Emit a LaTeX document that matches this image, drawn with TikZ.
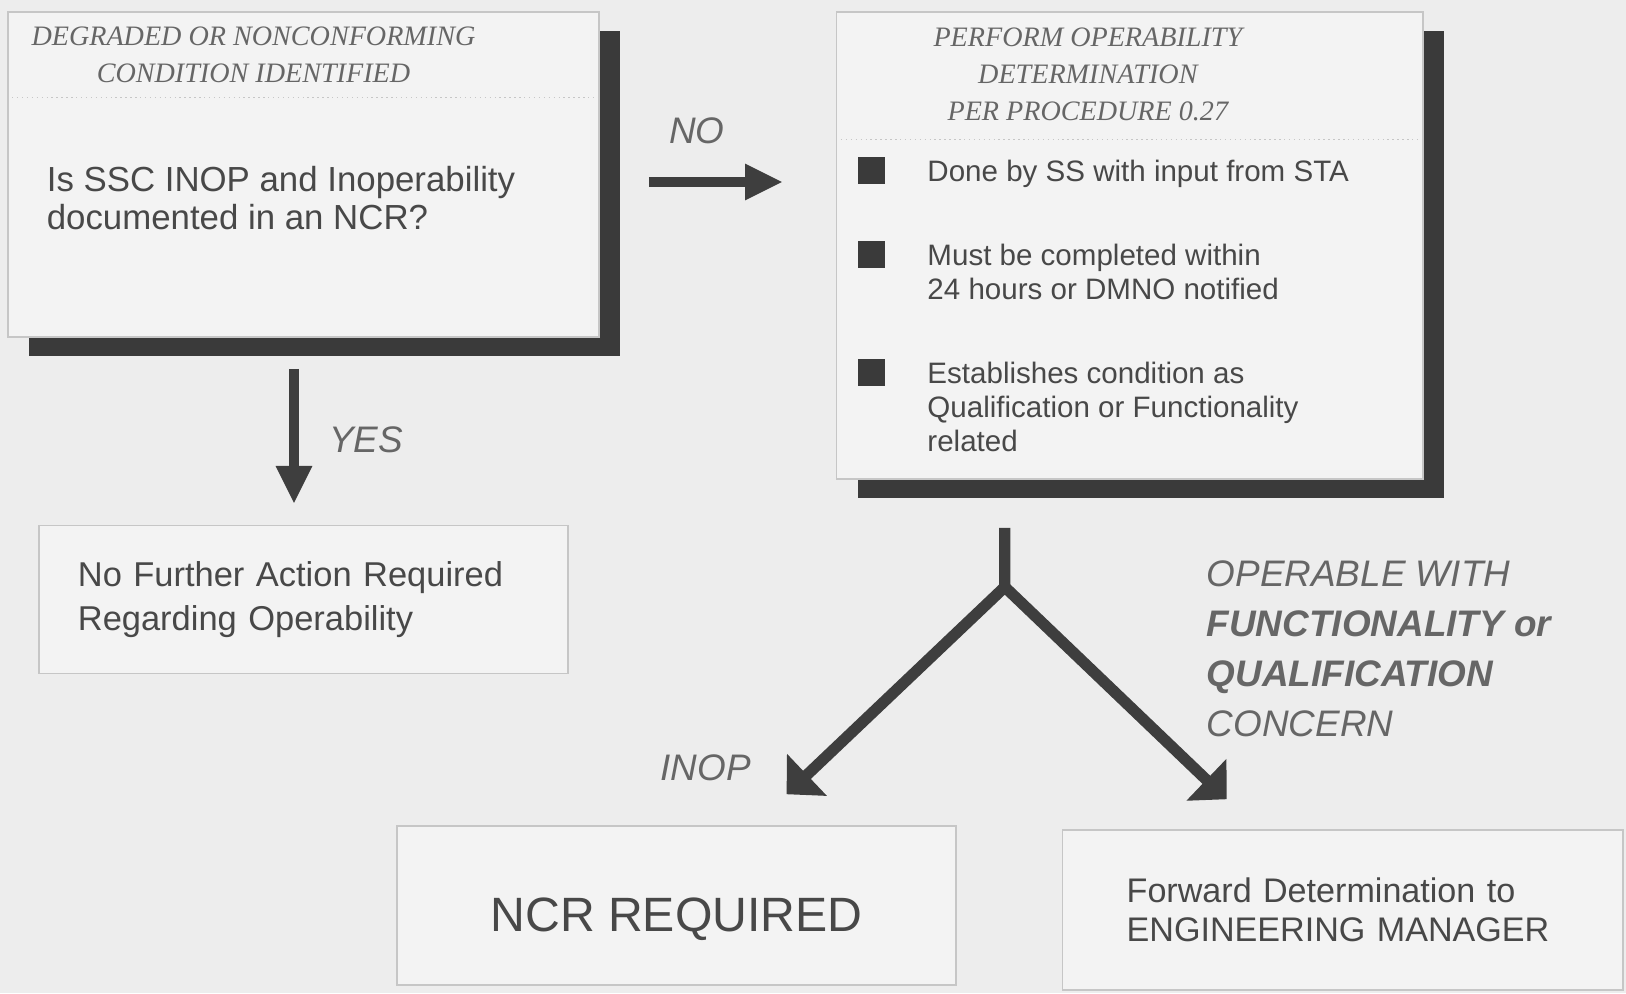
\documentclass[tikz,border=0pt]{standalone}
\usepackage{fontspec}
\setmainfont{Liberation Serif}
\setsansfont{Liberation Sans}
\usepackage{tikz}
\usetikzlibrary{arrows.meta,positioning,shadows}
\definecolor{paper}{HTML}{EDEDED}
\definecolor{boxfill}{HTML}{F3F3F3}
\definecolor{boxline}{HTML}{C6C6C6}
\definecolor{shadowgrey}{HTML}{3A3A3A}
\definecolor{ink}{HTML}{484848}
\definecolor{softink}{HTML}{666666}
\definecolor{arrowgrey}{HTML}{3E3E3E}
\tikzset{
  shadowbox/.style={
    rectangle, draw=boxline, fill=boxfill, thin, inner sep=0pt,
    drop shadow={shadow xshift=0.21cm, shadow yshift=-0.19cm,
                 opacity=1, fill=shadowgrey}
  },
  plainbox/.style={
    rectangle, draw=boxline, fill=boxfill, thin,
    text=ink, align=left
  },
  headtext/.style={font=\rmfamily\itshape\fontsize{8}{10.5}\selectfont,
    text=softink, align=center, inner sep=0pt},
  asktext/.style={font=\sffamily\fontsize{9.9}{10.9}\selectfont,
    text=ink, align=left, inner sep=0pt},
  itemtext/.style={font=\sffamily\fontsize{8.4}{9.7}\selectfont,
    text=ink, align=left, inner sep=0pt},
  bulletsq/.style={rectangle, fill=shadowgrey, minimum size=0.27cm, inner sep=0pt},
  divline/.style={draw=boxline, densely dotted, thin},
  flowarrow/.style={
    -{Triangle[length=10.8pt, width=9.6pt]}, line width=3pt, color=arrowgrey
  },
  forkarrow/.style={
    -{Triangle[length=8pt, width=16pt]}, line width=3.2pt, color=arrowgrey
  },
  flowlabel/.style={font=\sffamily\itshape\fontsize{10.5}{14.2}\selectfont,
    text=softink, inner sep=0pt, align=left},
}
\begin{document}
\begin{tikzpicture}[x=0.01cm, y=-0.01cm]
    \fill[paper] (0,0) rectangle (1626,993);
    % top row
    \node[shadowbox, minimum width=5.91cm, minimum height=3.25cm] (cond) at (303.5,174.5) {};
    \node[shadowbox, minimum width=5.86cm, minimum height=4.67cm,
          right=2.36cm of cond.north east, anchor=north west] (perform) {};
    \node[headtext] (condhead) at ([xshift=-0.5cm, yshift=-0.435cm]cond.north)
        {DEGRADED OR NONCONFORMING\\CONDITION IDENTIFIED};
    \draw[divline] ([yshift=-0.86cm]cond.north west) -- ([yshift=-0.86cm]cond.north east);
    \node[asktext, anchor=west] (ask) at ([xshift=0.39cm, yshift=-1.865cm]cond.north west)
        {Is SSC INOP and Inoperability\\documented in an NCR?};
    \node[headtext] (performhead) at ([xshift=-0.42cm, yshift=-0.635cm]perform.north)
        {PERFORM OPERABILITY\\DETERMINATION\\PER PROCEDURE 0.27};
    \draw[divline] ([yshift=-1.28cm]perform.north west) -- ([yshift=-1.28cm]perform.north east);
    % bullet items
    \node[bulletsq] (b1) at ([xshift=0.35cm, yshift=-1.59cm]perform.north west) {};
    \node[bulletsq, below=0.56cm of b1] (b2) {};
    \node[bulletsq, below=0.89cm of b2] (b3) {};
    \node[itemtext, anchor=north west] (item1) at ([xshift=0.415cm, yshift=-0.03cm]b1.north east)
        {Done by SS with input from STA};
    \node[itemtext, anchor=north west] (item2) at ([xshift=0.415cm, yshift=-0.03cm]b2.north east)
        {Must be completed within\\24 hours or DMNO notified};
    \node[itemtext, anchor=north west] (item3) at ([xshift=0.415cm, yshift=-0.03cm]b3.north east)
        {Establishes condition as\\Qualification or Functionality\\related};
    % lower boxes
    \node[plainbox, below=1.87cm of cond, text width=4.51cm, inner xsep=0.39cm,
          minimum height=1.48cm, font=\sffamily\fontsize{9.8}{12.5}\selectfont] (noact)
        {No Further Action Required\\Regarding Operability};
    \node[plainbox, minimum width=5.59cm, minimum height=1.59cm, align=center,
          text height=14.8pt, text depth=0pt,
          font=\sffamily\fontsize{13.7}{16}\selectfont] (ncr) at (676.5,905.5) {NCR REQUIRED};
    \node[plainbox, right=1.05cm of ncr, yshift=-0.045cm, text width=4.32cm, inner xsep=0.64cm,
          minimum height=1.6cm, font=\sffamily\fontsize{9.7}{11.1}\selectfont] (fwd)
        {Forward Determination to\\ENGINEERING MANAGER};
    % connectors
    \draw[flowarrow, shorten <=0.49cm, shorten >=0.53cm]
        ([yshift=-0.075cm]cond.east) -- ([yshift=-0.075cm]cond.east -| perform.west)
        node[flowlabel, pos=0.41, above=0.33cm] {NO};
    \draw[flowarrow, shorten <=0.31cm, shorten >=0.21cm]
        ([xshift=-0.095cm]cond.south) -- ([xshift=-0.095cm]cond.south |- noact.north)
        node[flowlabel, pos=0.545, right=0.3cm] {YES};
    \coordinate (fork) at ([xshift=-1.25cm, yshift=-1.07cm]perform.south);
    \coordinate (inopend) at ([xshift=1.1cm, yshift=0.31cm]ncr.north);
    \coordinate (operend) at ([xshift=-1.16cm, yshift=0.3cm]fwd.north);
    \draw[forkarrow] ([xshift=-1.25cm, yshift=-0.48cm]perform.south) -- (fork) -- (inopend);
    \draw[forkarrow] (fork) -- (operend);
    \node[flowlabel, anchor=east] (inoplbl) at ([xshift=-0.35cm, yshift=0.26cm]inopend) {INOP};
    \node[flowlabel, anchor=north west] (operlbl) at (1206,560)
        {OPERABLE WITH\\\textbf{FUNCTIONALITY or}\\\textbf{QUALIFICATION}\\CONCERN};
\end{tikzpicture}
\end{document}
